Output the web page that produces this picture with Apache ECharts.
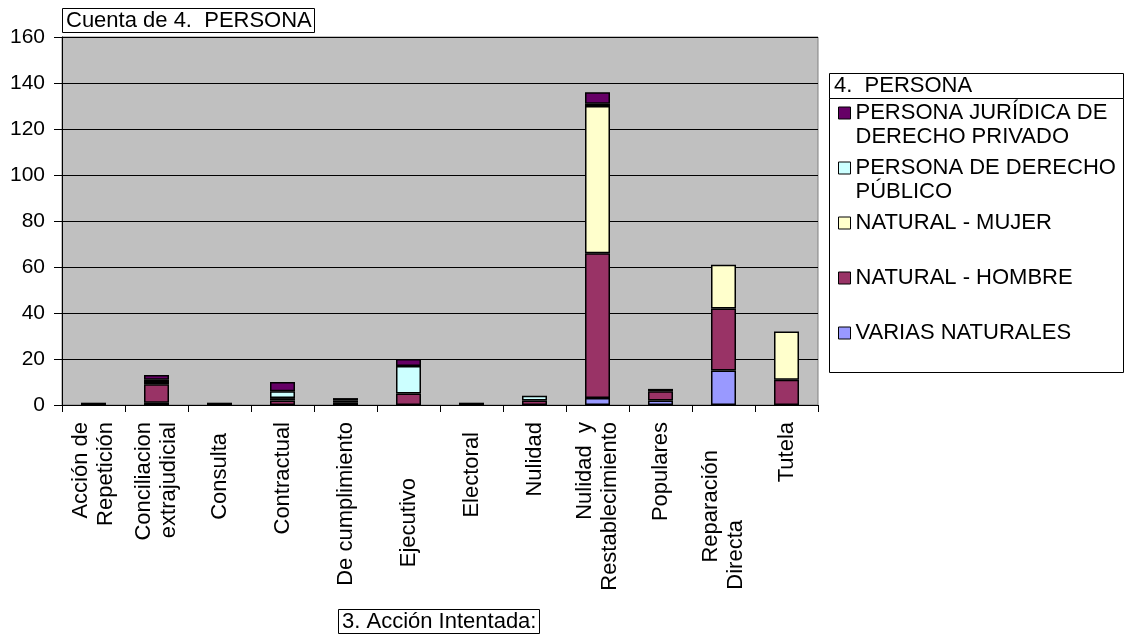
<!DOCTYPE html>
<html>
<head>
<meta charset="utf-8">
<script src="https://cdn.jsdelivr.net/npm/echarts@6/dist/echarts.min.js"></script>
<style>html,body{margin:0;padding:0;background:#fff;}#c{width:1124px;height:637px;}</style>
</head>
<body>
<div id="c"></div>
<script>
const categories = ['Acción de\nRepetición', 'Conciliacion\nextrajudicial', 'Consulta', 'Contractual', 'De cumplimiento', 'Ejecutivo', 'Electoral', 'Nulidad', 'Nulidad  y\nRestablecimiento', 'Populares', 'Reparación\nDirecta', 'Tutela'];
const variasNaturales = [0, 1, 0, 0, 0, 0, 0, 0, 3, 2, 15, 0];
const naturalHombre   = [0, 8, 1, 2, 1, 5, 1, 2, 63, 4, 27, 11];
const naturalMujer    = [0, 1, 0, 1, 0, 0, 0, 0, 64, 1, 19, 21];
const derechoPublico  = [1, 1, 0, 3, 1, 12, 0, 2, 1, 0, 0, 0];
const juridicaPrivado = [0, 2, 0, 4, 1, 3, 0, 0, 5, 0, 0, 0];
const yTicks = [0, 20, 40, 60, 80, 100, 120, 140, 160];

const FONT = 'Liberation Sans, Arial, sans-serif';
// label placement offsets (px away from the axis) per category line, styling only
const labelOffsets = {
  'Consulta': [11], 'Ejecutivo': [56], 'Electoral': [10], 'Reparación\nDirecta': [28, 98]
};
const rich = {};
[0, 10, 11, 28, 56, 98].forEach(function (o) {
  rich['o' + o] = {fontSize: 22, lineHeight: 25, fontFamily: FONT, color: '#000', padding: [0, o, 0, 0]};
});

const seriesDefs = [
  {name: 'VARIAS NATURALES', data: variasNaturales, color: '#9999FF'},
  {name: 'NATURAL - HOMBRE', data: naturalHombre, color: '#993366'},
  {name: 'NATURAL - MUJER', data: naturalMujer, color: '#FFFFCC'},
  {name: 'PERSONA DE DERECHO\nPÚBLICO', data: derechoPublico, color: '#CCFFFF'},
  {name: 'PERSONA JURÍDICA DE\nDERECHO PRIVADO', data: juridicaPrivado, color: '#660066'}
];

const chart = echarts.init(document.getElementById('c'), null, {renderer: 'canvas'});
chart.setOption({
  animation: false,
  backgroundColor: '#fff',
  title: [
    {text: 'Cuenta de 4.  PERSONA', left: 62, top: 8, padding: [1, 3, 1, 4], borderColor: '#000', borderWidth: 1, backgroundColor: '#fff',
     textStyle: {fontSize: 22, fontWeight: 'normal', fontFamily: FONT, color: '#000', lineHeight: 23}},
    {text: '3. Acción Intentada:', left: 338, top: 609, padding: [1, 3, 1, 4], borderColor: '#000', borderWidth: 1, backgroundColor: '#fff',
     textStyle: {fontSize: 22, fontWeight: 'normal', fontFamily: FONT, color: '#000', lineHeight: 23}}
  ],
  graphic: [
    {type: 'rect', shape: {x: 829.5, y: 73.5, width: 294, height: 25}, style: {fill: '#fff', stroke: '#000', lineWidth: 1}, z: 0},
    {type: 'text', x: 834, y: 86, style: {text: '4.  PERSONA', font: '22px ' + FONT, fill: '#000', verticalAlign: 'middle'}, z: 1},
    {type: 'rect', shape: {x: 829.5, y: 98.5, width: 294, height: 274}, style: {fill: '#fff', stroke: '#000', lineWidth: 1}, z: 0}
  ],
  legend: {
    orient: 'vertical',
    left: 838,
    top: 77,
    padding: 0,
    itemWidth: 12,
    itemHeight: 12,
    itemGap: -17,
    icon: 'rect',
    z: 5,
    itemStyle: {borderColor: '#000', borderWidth: 1},
    data: seriesDefs.map(s => s.name).reverse(),
    formatter: function (name) {
      return name.indexOf('\n') >= 0 ? ' \n' + name : ' \n' + name + '\n ';
    },
    textStyle: {fontSize: 22, lineHeight: 24, color: '#000', fontFamily: FONT}
  },
  grid: {left: 62, right: 306, top: 37, bottom: 232, show: true, backgroundColor: '#C0C0C0', borderColor: '#808080', borderWidth: 1, containLabel: false},
  xAxis: {
    type: 'category',
    data: categories,
    axisLine: {show: true, lineStyle: {color: '#000', width: 1}},
    axisTick: {show: true, length: 7, alignWithLabel: false, interval: 0, lineStyle: {color: '#000'}},
    axisLabel: {
      rotate: 90, interval: 0, fontSize: 22, lineHeight: 25, margin: 17, color: '#000', fontFamily: FONT,
      formatter: function (value) {
        const offs = labelOffsets[value] || [];
        return value.split('\n').map(function (line, i) {
          return '{o' + (offs[i] || 0) + '|' + line + '}';
        }).join('\n');
      },
      rich: rich
    },
    splitLine: {show: false}
  },
  yAxis: {
    type: 'value',
    min: yTicks[0],
    max: yTicks[yTicks.length - 1],
    interval: yTicks[1] - yTicks[0],
    axisLine: {show: true, lineStyle: {color: '#000', width: 1}},
    axisTick: {show: true, length: 8, lineStyle: {color: '#000'}},
    axisLabel: {fontSize: 21, margin: 17, color: '#000', fontFamily: FONT},
    splitLine: {show: true, lineStyle: {color: '#000', width: 1}}
  },
  series: seriesDefs.map(s => ({
    name: s.name,
    type: 'bar',
    stack: 'total',
    barWidth: 25,
    data: s.data.map(v => (v === 0 ? '-' : v)),
    itemStyle: {color: s.color, borderColor: '#000', borderWidth: 1.5}
  }))
});
</script>
</body>
</html>
